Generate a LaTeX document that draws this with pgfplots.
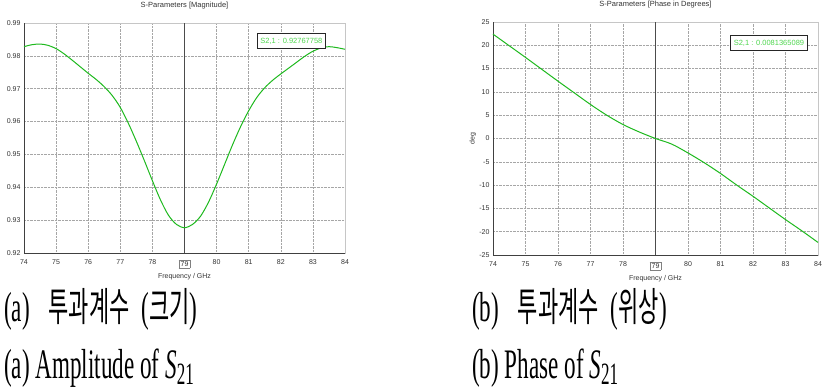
\documentclass[border=0pt]{standalone}
\usepackage{graphicx}
\usepackage{fontspec}
\setmainfont{Liberation Serif}
\newfontfamily\chartfont{Liberation Sans}
\newfontfamily\kr{Noto Sans CJK KR}
\usepackage{pgfplots}
\pgfplotsset{compat=1.18}
\definecolor{curve}{RGB}{30,185,30}
\definecolor{lbl}{RGB}{80,215,80}
\pgfplotstableread{
f m
74 0.9828
74.25 0.9834
74.5 0.9836
74.75 0.9832
75 0.9822
75.25 0.9806
75.5 0.9787
75.75 0.9767
76 0.9747
76.25 0.9728
76.5 0.9706
76.75 0.9679
77 0.9643
77.25 0.9595
77.5 0.9540
77.75 0.9481
78 0.9420
78.25 0.9362
78.5 0.9315
78.75 0.9287
79 0.9277
79.25 0.9287
79.5 0.9312
79.75 0.9355
80 0.9410
80.25 0.9470
80.5 0.9530
80.75 0.9585
81 0.9633
81.25 0.9673
81.5 0.9703
81.75 0.9726
82 0.9745
82.25 0.9763
82.5 0.9781
82.75 0.9799
83 0.9814
83.25 0.9824
83.5 0.9828
83.75 0.9825
84 0.9820
}\magtab
\pgfplotstableread{
f p
74 22.4
74.5 19.9
75 17.4
75.5 14.85
76 12.3
76.5 9.8
77 7.3
77.5 5.0
78 3.0
78.5 1.4
79 0.0
79.5 -1.2
80 -3.1
80.5 -5.2
81 -7.5
81.5 -10.0
82 -12.4
82.5 -14.9
83 -17.4
83.5 -19.8
84 -22.3
}\phtab
\pgfplotsset{
  sp/.style={
    scale only axis,
    clip=false,
    xmin=74, xmax=84,
    xtick={74,...,84},
    xticklabels={74,75,76,77,78,{\fcolorbox{gray}{white}{79}},80,81,82,83,84},
    grid=major,
    major grid style={densely dotted, gray!70, line width=0.5pt},
    axis line style={draw=gray!45, line width=0.8pt},
    major tick length=0pt,
    tick label style={font=\chartfont\fontsize{7}{8}\selectfont, black!80},
    /pgf/number format/assume math mode=true,
    label style={font=\chartfont\fontsize{7}{8}\selectfont, black!80},
    title style={font=\chartfont\fontsize{7.5}{8}\selectfont, black!80, at={(axis description cs:0.5,1)}, anchor=base, yshift=10pt},
    xlabel={Frequency / GHz},
    xlabel style={yshift=2pt},
    xticklabel style={yshift=-3pt},
  }
}
\setlength{\fboxsep}{1.5pt}
\newcommand{\capt}[1]{\scalebox{0.55}[1]{\fontsize{42}{42}\selectfont #1}}
\newcommand{\K}[1]{{\kr\fontsize{40}{40}\selectfont #1}}
\tikzset{mk/.style={draw=black!85, line width=1pt, fill=white, text=lbl, font=\chartfont\fontsize{7.5}{8}\selectfont, inner xsep=3pt, inner ysep=4pt}}
\begin{document}
\begin{tikzpicture}
\useasboundingbox (0pt,0pt) rectangle (827pt,-391pt);
\begin{axis}[sp,
  at={(24pt,-253pt)}, anchor=south west,
  width=321pt, height=230pt,
  title={S-Parameters [Magnitude]},
  ymin=0.92, ymax=0.99, ytick={0.92,0.93,...,0.99},
  yticklabel style={/pgf/number format/.cd, fixed, fixed zerofill, precision=2},
]
\draw[black!75, line width=0.9pt] (rel axis cs:0,1)--(rel axis cs:0,0)--(rel axis cs:1,0);
\addplot[black!70, line width=1.3pt] coordinates {(79,0.92) (79,0.99)};
\addplot[curve, line width=1pt, smooth] table[x=f,y=m] {\magtab};
\node[mk] at (axis cs:82.33,0.9845) {S2,1 : 0.92767758};
\end{axis}
\begin{axis}[sp,
  at={(493pt,-255pt)}, anchor=south west,
  width=325pt, height=233pt,
  title={S-Parameters [Phase in Degrees]},
  ymin=-25, ymax=25, ytick={-25,-20,...,25},
  yticklabels={-25,-20,-15,-10,-5,0,5,10,15,20,25},
  ylabel={deg},
  ylabel style={at={(axis description cs:-0.062,0.5)}, rotate=0, anchor=center},
]
\draw[black!75, line width=0.9pt] (rel axis cs:0,1)--(rel axis cs:0,0)--(rel axis cs:1,0);
\addplot[black!70, line width=1.3pt] coordinates {(79,-25) (79,25)};
\addplot[curve, line width=1pt, smooth] table[x=f,y=p] {\phtab};
\node[mk] at (axis cs:82.49,20.5) {S2,1 : 0.0081365089};
\end{axis}
\node[anchor=base west, inner sep=0] at (4pt,-321pt) {\capt{(a)\hspace{34pt}\K{투과계수}\hspace{22pt}(\K{크기})}};
\node[anchor=base west, inner sep=0] at (4pt,-378pt) {\capt{(a) Amplitude of \textit{S}\raisebox{-0.16em}{\fontsize{31}{31}\selectfont 21}}};
\node[anchor=base west, inner sep=0] at (472pt,-321pt) {\capt{(b)\hspace{34pt}\K{투과계수}\hspace{22pt}(\K{위상})}};
\node[anchor=base west, inner sep=0] at (472pt,-378pt) {\capt{(b) Phase of \textit{S}\raisebox{-0.16em}{\fontsize{31}{31}\selectfont 21}}};
\end{tikzpicture}
\end{document}
